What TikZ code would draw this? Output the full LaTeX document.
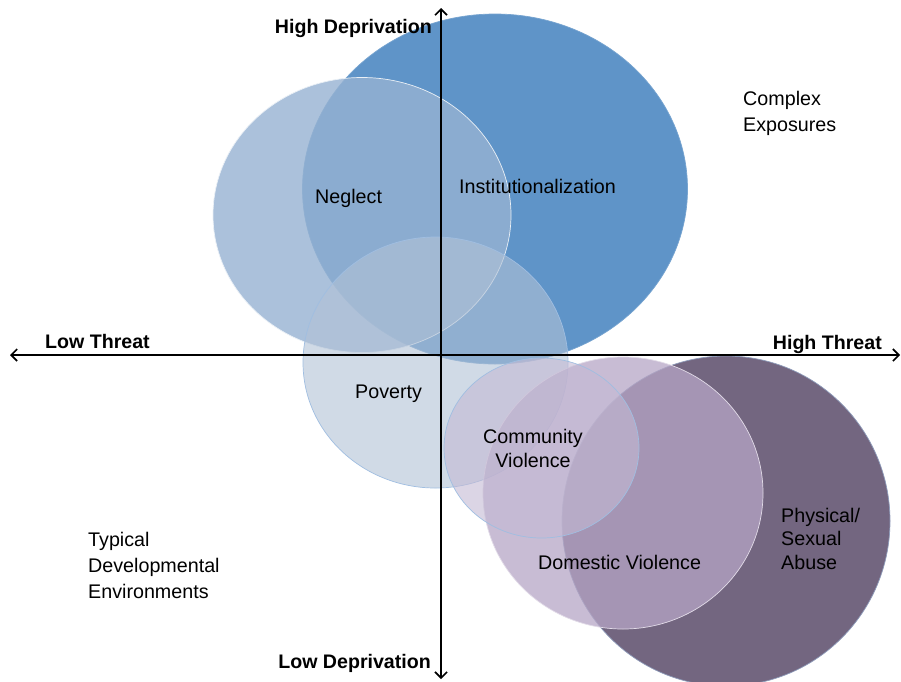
\documentclass[tikz,border=0pt]{standalone}
\usepackage{fontspec}
\setmainfont{Liberation Sans}
\usetikzlibrary{arrows.meta,shapes.geometric}
\definecolor{instc}{RGB}{95,148,200}
\definecolor{neglc}{RGB}{150,178,210}
\definecolor{povc}{RGB}{178,194,214}
\definecolor{physc}{RGB}{115,102,128}
\definecolor{domc}{RGB}{182,166,198}
\definecolor{comc}{RGB}{196,186,212}
\definecolor{edgec}{RGB}{160,190,225}
\tikzset{
  blob/.style={ellipse, inner sep=0pt, draw=edgec, line width=0.7pt},
  axis/.style={line width=1.8pt, {Straight Barb[length=6pt,width=12pt,line width=1.6pt]}-{Straight Barb[length=6pt,width=12pt,line width=1.6pt]}},
  axlabel/.style={font=\fontsize{19.6}{23}\selectfont\bfseries, inner sep=0pt},
  lab/.style={font=\fontsize{19.7}{23.5}\selectfont, inner sep=0pt, align=left},
  outlab/.style={font=\fontsize{19.7}{26}\selectfont, inner sep=0pt, align=left}
}
\begin{document}
\begin{tikzpicture}[x=1pt,y=-1pt]
\useasboundingbox (0,0) rectangle (901,681);
\fill[white] (0,0) rectangle (901,681);
% upper ellipses
\node[blob, fill=instc, draw=instc!85!white, minimum width=385pt, minimum height=350pt] (inst) at (495,189) {};
\node[blob, fill=neglc, fill opacity=0.8, draw=white!80!neglc, minimum width=298pt, minimum height=275pt] (negl) at (362,215) {};
\node[blob, fill=povc, fill opacity=0.6, minimum width=265pt, minimum height=251pt] (pov) at (435.5,362.5) {};
% lower ellipses
\node[blob, fill=physc, draw=edgec!60!physc, minimum width=328pt, minimum height=330pt] (phys) at (726,521) {};
\node[blob, fill=domc, fill opacity=0.75, draw=white!60!domc, minimum width=280pt, minimum height=272pt] (dom) at (623,493) {};
\node[blob, fill=comc, fill opacity=0.6, minimum width=195pt, minimum height=180pt] (com) at (541.5,448) {};
% axes
\coordinate (L) at (10,355);
\coordinate (R) at (900,355);
\coordinate (T) at (441,8);
\coordinate (B) at (441,679);
\draw[axis] (L) -- (R);
\draw[axis] (T) -- (B);
% axis labels
\node[axlabel, anchor=base east] (hd) at (432,33) {High Deprivation};
\node[axlabel, anchor=base east] (ld) at (431,668) {Low Deprivation};
\node[axlabel, anchor=base west] (lt) at (45,348) {Low Threat};
\node[axlabel, anchor=base east] (ht) at (882,349) {High Threat};
% ellipse labels
\node[lab, anchor=base west] (tinst) at (459,193) {Institutionalization};
\node[lab, anchor=base west] (tnegl) at (315,203) {Neglect};
\node[lab, anchor=base west] (tpov) at (355,398) {Poverty};
\node[lab, align=center, anchor=base] (tcom) at (533,467) {Community\\Violence};
\node[lab, anchor=base west] (tdom) at (538,569) {Domestic Violence};
\node[lab, anchor=base west] (tphys) at (781,569) {Physical/\\Sexual\\Abuse};
% outer labels
\node[outlab, anchor=base west] (tcx) at (743,131) {Complex\\Exposures};
\node[outlab, anchor=base west] (tty) at (88,598) {Typical\\Developmental\\Environments};
\end{tikzpicture}
\end{document}
